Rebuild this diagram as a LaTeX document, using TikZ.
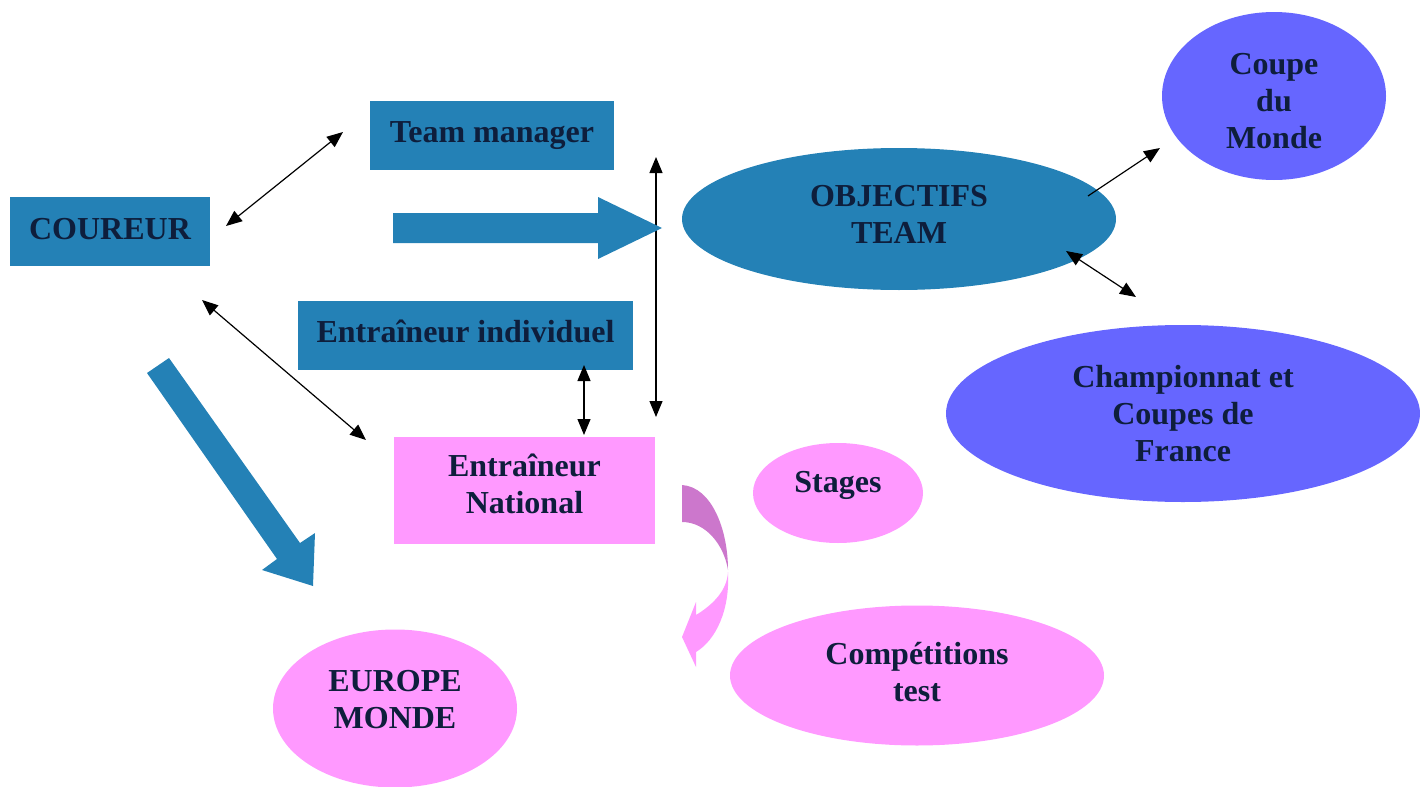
\documentclass[tikz,border=0pt]{standalone}
\usepackage{fontspec}
\setmainfont{Liberation Serif}
\usetikzlibrary{shapes.geometric,arrows.meta}
\definecolor{teamblue}{RGB}{36,129,182}
\definecolor{violet}{RGB}{102,102,255}
\definecolor{rose}{RGB}{255,153,255}
\definecolor{mauve}{RGB}{204,119,204}
\definecolor{ink}{RGB}{14,30,60}
\tikzset{
  box/.style={rectangle, fill=#1, text=ink, font=\fontsize{16}{18.5}\selectfont\bfseries, align=center, inner sep=0pt},
  oval/.style={ellipse, fill=#1, text=ink, font=\fontsize{16}{18.5}\selectfont\bfseries, align=center, inner sep=0pt},
  lift/.style={text depth=#1},
  link/.style={<->, >={Triangle[length=8pt,width=6.5pt]}, line width=0.6pt},
}
\begin{document}
\begin{tikzpicture}[x=0.5pt, y=-0.5pt]
        \useasboundingbox (0,0) rectangle (1420,787);
        % boxes
        \node[box=teamblue, minimum width=100pt, minimum height=34.5pt, lift=3pt] (coureur) at (110,231.5) {COUREUR};
        \node[box=teamblue, minimum width=122pt, minimum height=34.5pt] (manager) at (492,135.5) {Team manager};
        \node[box=teamblue, minimum width=167.5pt, minimum height=34.5pt, lift=4pt] (individuel) at (465.5,335.5) {Entra\^ineur individuel};
        \node[box=rose, minimum width=130.5pt, minimum height=53.5pt, lift=6.5pt] (national) at (524.5,490.5) {Entra\^ineur\\National};
        % ellipses
        \node[oval=teamblue, minimum width=217pt, minimum height=71pt, lift=5pt] (objectifs) at (899,219) {OBJECTIFS\\TEAM};
        \node[oval=violet, minimum width=112pt, minimum height=84pt, text height=53pt] (monde) at (1274,96) {Coupe\\du\\Monde};
        \node[oval=violet, minimum width=237pt, minimum height=88.5pt] (france) at (1183,413.5) {Championnat et\\Coupes de\\France};
        \node[oval=rose, minimum width=85pt, minimum height=50pt, lift=11.4pt] (stages) at (838,493) {Stages};
        \node[oval=rose, minimum width=187pt, minimum height=70pt, lift=4pt] (test) at (917,675.5) {Comp\'etitions\\test};
        \node[oval=rose, minimum width=122pt, minimum height=79pt, lift=9pt] (europe) at (395,708.5) {EUROPE\\MONDE};
        % arrow ends
        \coordinate (c1) at (226,226);
        \coordinate (m1) at (343,132);
        \coordinate (c2) at (202,300);
        \coordinate (n1) at (366,440);
        \coordinate (i1) at (584,365);
        \coordinate (n2) at (584,435);
        \coordinate (v1) at (656,157);
        \coordinate (v2) at (656,417);
        \coordinate (o1) at (1088,196);
        \coordinate (w1) at (1160,148);
        \coordinate (o2) at (1066,251);
        \coordinate (f1) at (1136,297);
        \draw[link] (c1) -- (m1);
        \draw[link] (c2) -- (n1);
        \draw[link] (i1) -- (n2);
        \draw[link] (v1) -- (v2);
        \draw[link, <-] (w1) -- (o1);
        \draw[link] (o2) -- (f1);
        % block arrows
        \fill[teamblue] (393,213) -- (598,213) -- (598,197) -- (662,228) -- (598,259) -- (598,243) -- (393,243) -- cycle;
        \fill[teamblue] (169,358) -- (300,543) -- (315,533) -- (313,586) -- (262,570) -- (277,559) -- (147,373) -- cycle;
        % curved arrow
        \fill[mauve] (682,485) .. controls (712,487) and (728,530) .. (728,570)
            .. controls (724,545) and (706,522) .. (682,522) -- cycle;
        \fill[rose] (728,572) .. controls (730,610) and (716,640) .. (696,652)
            -- (696,667) -- (682,637) -- (696,602) -- (696,615)
            .. controls (714,604) and (727,590) .. (728,572) -- cycle;
    \end{tikzpicture}
\end{document}
